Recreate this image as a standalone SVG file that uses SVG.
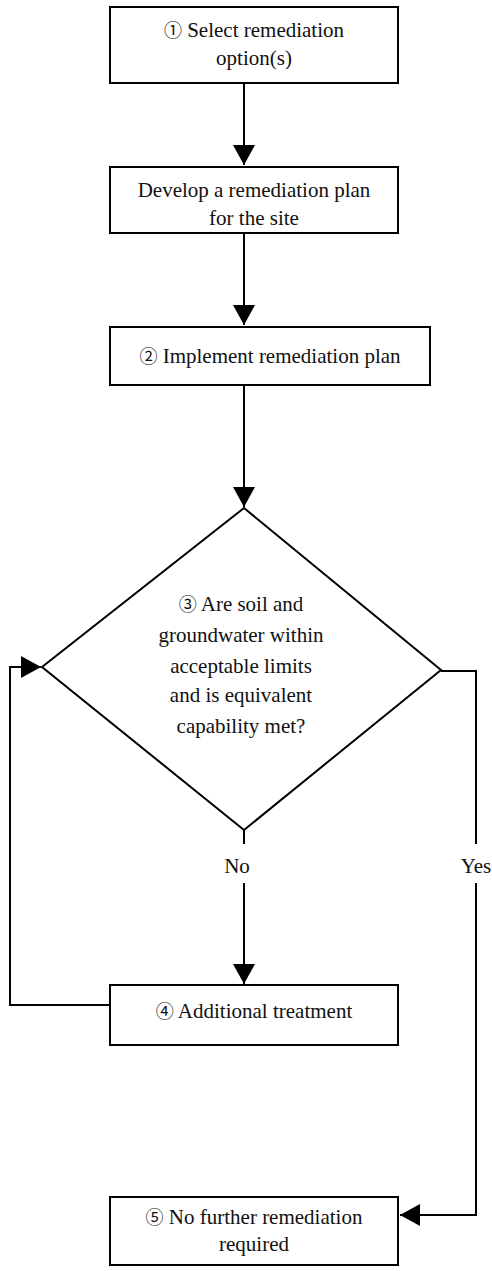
<svg xmlns="http://www.w3.org/2000/svg" width="492" height="1271" viewBox="0 0 492 1271">
<defs>
<style>
.box{fill:#fff;stroke:#000;stroke-width:2}
.ln{fill:none;stroke:#000;stroke-width:2}
.t{font-family:'Liberation Serif','DejaVu Serif','Noto Sans CJK SC',serif;font-size:21px;fill:#111;text-anchor:middle}
.c{font-size:18px}
</style>
<marker id="ah" viewBox="0 0 20 22" refX="20" refY="11" markerWidth="20" markerHeight="22" markerUnits="userSpaceOnUse" orient="auto">
<path d="M0,0 L20,11 L0,22 Z" fill="#000"/>
</marker>
</defs>
<rect width="492" height="1271" fill="#fff"/>
<g id="connectors">
<line class="ln" x1="244" y1="84" x2="244" y2="165" marker-end="url(#ah)"/>
<line class="ln" x1="244" y1="234" x2="244" y2="325" marker-end="url(#ah)"/>
<line class="ln" x1="244" y1="386" x2="244" y2="507" marker-end="url(#ah)"/>
<line class="ln" x1="244" y1="830" x2="244" y2="844"/>
<line class="ln" x1="244" y1="883" x2="244" y2="984" marker-end="url(#ah)"/>
<polyline class="ln" points="109,1005 10,1005 10,667 41,667" marker-end="url(#ah)"/>
<polyline class="ln" points="441,671 476,671 476,844"/>
<polyline class="ln" points="476,883 476,1215 400,1215" marker-end="url(#ah)"/>
<text class="t" x="237" y="873">No</text>
<text class="t" x="476" y="873">Yes</text>
</g>
<g id="n1">
<rect class="box" x="110" y="7" width="288" height="76"/>
<text class="t" x="254" y="37"><tspan class="c">①</tspan>  Select remediation</text>
<text class="t" x="254" y="65">option(s)</text>
</g>
<g id="n2">
<rect class="box" x="110" y="167" width="288" height="66"/>
<text class="t" x="254" y="197">Develop a remediation plan</text>
<text class="t" x="254" y="225">for the site</text>
</g>
<g id="n3">
<rect class="box" x="110" y="327" width="320" height="58"/>
<text class="t" x="270" y="363"><tspan class="c">②</tspan>  Implement remediation plan</text>
</g>
<g id="n4">
<polygon class="box" points="244,508 441,670 244,830 42,667"/>
<text class="t" x="241" y="611"><tspan class="c">③</tspan>  Are soil and</text>
<text class="t" x="241" y="642">groundwater within</text>
<text class="t" x="241" y="673">acceptable limits</text>
<text class="t" x="241" y="702">and is equivalent</text>
<text class="t" x="241" y="733">capability met?</text>
</g>
<g id="n5">
<rect class="box" x="110" y="985" width="288" height="60"/>
<text class="t" x="254" y="1018"><tspan class="c">④</tspan>  Additional treatment</text>
</g>
<g id="n6">
<rect class="box" x="110" y="1197" width="288" height="68"/>
<text class="t" x="254" y="1224"><tspan class="c">⑤</tspan>  No further remediation</text>
<text class="t" x="254" y="1251">required</text>
</g>
</svg>
